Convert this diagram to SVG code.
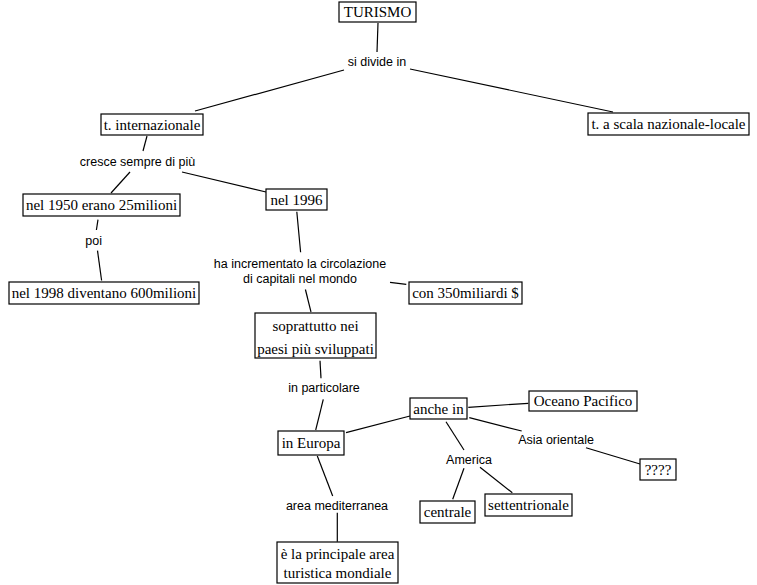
<svg xmlns="http://www.w3.org/2000/svg" width="757" height="585" viewBox="0 0 757 585">
<style>
rect{fill:#fff;stroke:#000;stroke-width:1.2}
.n{font-family:"Liberation Serif","Times New Roman",serif;font-size:15px;text-anchor:middle;fill:#000}
.l{font-family:"Liberation Sans",Arial,sans-serif;font-size:12.5px;text-anchor:middle;fill:#000}
#connectors line{stroke:#000;stroke-width:1.2}
</style>
<rect x="0" y="0" width="757" height="585" style="fill:#fff;stroke:none"/>
<g id="connectors">
<line x1="378" y1="23" x2="377" y2="52"/>
<line x1="344" y1="70" x2="195" y2="111"/>
<line x1="410" y1="69" x2="613" y2="112"/>
<line x1="147" y1="136" x2="143" y2="151"/>
<line x1="130" y1="172" x2="111" y2="193"/>
<line x1="182" y1="172" x2="266" y2="192"/>
<line x1="98" y1="219.6" x2="96.4" y2="230"/>
<line x1="97.5" y1="250.6" x2="101.6" y2="280.5"/>
<line x1="296.8" y1="211.7" x2="300.6" y2="252.3"/>
<line x1="390" y1="282.3" x2="406.3" y2="284.3"/>
<line x1="305.4" y1="289.5" x2="311" y2="312"/>
<line x1="320" y1="360.8" x2="321" y2="378.3"/>
<line x1="323.3" y1="399.3" x2="315.7" y2="430"/>
<line x1="346" y1="432.7" x2="410" y2="416"/>
<line x1="468.3" y1="407.3" x2="528.3" y2="403.3"/>
<line x1="469.3" y1="417.7" x2="521.7" y2="431"/>
<line x1="586" y1="447.7" x2="640" y2="464"/>
<line x1="446" y1="421.7" x2="464" y2="450"/>
<line x1="464" y1="468.3" x2="452.7" y2="499.3"/>
<line x1="480" y1="467.3" x2="512.3" y2="492.7"/>
<line x1="317.3" y1="456" x2="332.7" y2="496"/>
<line x1="337.3" y1="512.7" x2="337.3" y2="541.7"/>
</g>
<g id="labels">
<text class="l" x="377" y="65.5">si divide in</text>
<text class="l" x="137.5" y="165.5">cresce sempre di più</text>
<text class="l" x="93.7" y="244.5">poi</text>
<text class="l" x="300" y="268">ha incrementato la circolazione</text>
<text class="l" x="300" y="282.5">di capitali nel mondo</text>
<text class="l" x="324" y="392">in particolare</text>
<text class="l" x="556" y="444">Asia orientale</text>
<text class="l" x="469" y="464">America</text>
<text class="l" x="337" y="509.5">area mediterranea</text>
</g>
<g id="turismo"><rect x="339" y="2" width="77" height="20"/><text class="n" x="377.5" y="17">TURISMO</text></g>
<g id="t-internazionale"><rect x="101" y="114" width="102" height="21"/><text class="n" x="152" y="129.5">t. internazionale</text></g>
<g id="t-scala"><rect x="588" y="113" width="161" height="22"/><text class="n" x="668.5" y="129">t. a scala nazionale-locale</text></g>
<g id="nel-1950"><rect x="23" y="194" width="157" height="22"/><text class="n" x="101.5" y="210">nel 1950 erano 25milioni</text></g>
<g id="nel-1996"><rect x="266" y="189" width="61" height="21"/><text class="n" x="296.5" y="204.5">nel 1996</text></g>
<g id="nel-1998"><rect x="9" y="282" width="190" height="22"/><text class="n" x="104" y="298">nel 1998 diventano 600milioni</text></g>
<g id="con-350"><rect x="409" y="282" width="113" height="22"/><text class="n" x="465.5" y="298">con 350miliardi $</text></g>
<g id="soprattutto"><rect x="255" y="313" width="121" height="45"/><text class="n" x="315.5" y="331">soprattutto nei</text><text class="n" x="315.5" y="354">paesi più sviluppati</text></g>
<g id="in-europa"><rect x="278" y="431" width="66" height="24"/><text class="n" x="311" y="448">in Europa</text></g>
<g id="anche-in"><rect x="410" y="398" width="57" height="21"/><text class="n" x="438.5" y="413.5">anche in</text></g>
<g id="oceano"><rect x="529" y="391" width="108" height="20"/><text class="n" x="583" y="406">Oceano Pacifico</text></g>
<g id="unknown"><rect x="640" y="459" width="36" height="21"/><text class="n" x="658" y="474.5">????</text></g>
<g id="centrale"><rect x="420" y="501" width="55" height="22"/><text class="n" x="447.5" y="517">centrale</text></g>
<g id="settentrionale"><rect x="485" y="494" width="87" height="22"/><text class="n" x="528.5" y="510">settentrionale</text></g>
<g id="principale"><rect x="277" y="542" width="121" height="41"/><text class="n" x="337.5" y="558.5">è la principale area</text><text class="n" x="337.5" y="578">turistica mondiale</text></g>
</svg>
